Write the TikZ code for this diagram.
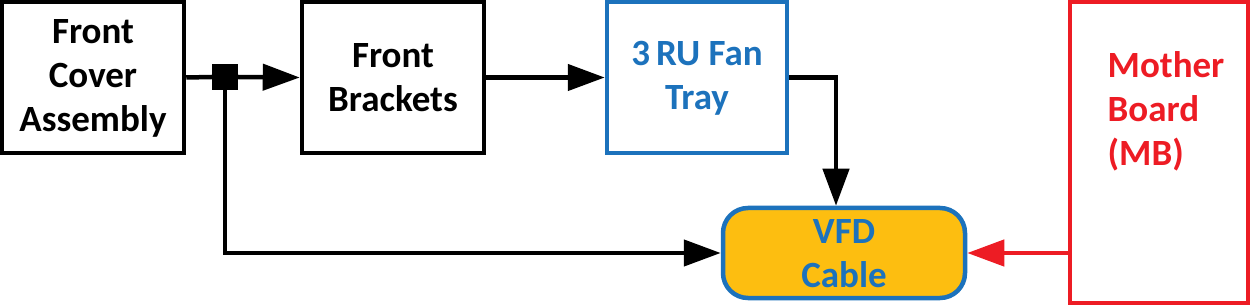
\documentclass[tikz,border=0pt]{standalone}
\usepackage{fontspec}
\setmainfont{Carlito}
\usetikzlibrary{arrows.meta,calc}
\definecolor{cblue}{RGB}{28,114,188}
\definecolor{cred}{RGB}{237,28,36}
\definecolor{cyel}{RGB}{253,190,16}
\begin{document}
\begin{tikzpicture}[x=1pt,y=-1pt,
  every node/.style={font=\fontsize{37}{44}\selectfont\bfseries, align=center, inner sep=0pt},
  blk/.style={draw=black, line width=4.5pt, minimum width=182pt, minimum height=151pt},
  fan/.style={draw=cblue, text=cblue, line width=4.5pt, minimum width=180pt, minimum height=151pt},
  mbbox/.style={draw=cred, line width=4.5pt, minimum width=178pt, minimum height=301pt},
  vfdbox/.style={draw=cblue, fill=cyel, text=cblue, line width=4.5pt, rounded corners=25pt, minimum width=242pt, minimum height=90pt},
  conn/.style={line width=4.5pt, -{Triangle[length=37pt,width=26pt]}},
  plain/.style={line width=4.5pt}]
\useasboundingbox (0,0) rectangle (1253,307);
\node[blk] (fc) at (93,77.5) {};
\node (fct) at (93,78) {Front\\Cover\\Assembly};
\node[blk] (fb) at (393,77.5) {};
\node (fbt) at (393,78) {Front\\Brackets};
\node[fan] (ft) at (697,77.5) {};
\node[text=cblue] (ftt) at (697,78) {3\,RU Fan\\Tray};
\node[vfdbox] (vfd) at (844,253) {};
\node[text=cblue] (vfdt) at (844,254) {VFD\\Cable};
\node[mbbox] (mb) at (1159,152.5) {};
\node[text=cred, align=left] (mbt) at (1166,111) {Mother\\Board\\(MB)};
\node[fill=black, minimum width=26pt, minimum height=26pt] (j) at (225,77) {};
\draw[plain] (fc.east) -- (j.west);
\draw[conn] (j.east) -- (fb.west);
\draw[conn] (j.south) |- (vfd.west);
\draw[conn] (fb.east) -- (ft.west);
\draw[conn] (ft.east) -| ([xshift=-8pt]vfd.north);
\draw[conn, draw=cred, fill=cred] (vfd.east -| mb.west) -- (vfd.east);
\end{tikzpicture}
\end{document}
